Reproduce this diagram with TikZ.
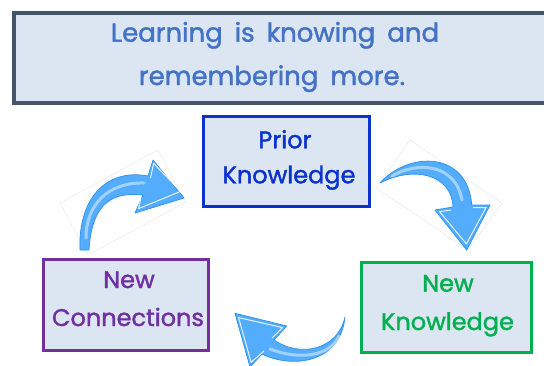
\documentclass[tikz,border=0pt]{standalone}
\usepackage{fontspec}
\setmainfont{Poppins}[FakeBold=1.6]
\newcommand\widewordgaps{\spaceskip=12pt plus 2pt\relax}
\definecolor{boxfill}{RGB}{220,230,242}
\definecolor{titleframe}{RGB}{68,84,106}
\definecolor{titletext}{RGB}{68,114,196}
\definecolor{priorblue}{RGB}{10,50,205}
\definecolor{connpurple}{RGB}{112,48,160}
\definecolor{newgreen}{RGB}{0,176,80}
\definecolor{arrowblue}{RGB}{84,172,252}
\definecolor{arrowedge}{RGB}{50,150,240}
\begin{document}
\begin{tikzpicture}[x=1pt,y=-1pt,
  framebox/.style={draw, fill=boxfill, line width=3pt, inner sep=0pt},
  words/.style={anchor=base, inner sep=0pt, font=\fontsize{24}{36}\selectfont},
  headline/.style={words, text=titletext, font=\fontsize{26}{36}\selectfont\widewordgaps},
  arrowbody/.style={fill=arrowblue, draw=arrowedge, line width=0.8pt, line join=round},
  arrowshine/.style={draw=white, line width=1pt, opacity=0.85, line join=round},
  arrowgloss/.style={draw=white, line width=3pt, opacity=0.45, line cap=round},
  ghostframe/.style={draw=black!10, line width=0.4pt}]
\useasboundingbox (0,0) rectangle (544,365);

% heading banner
\node[framebox, draw=titleframe, line width=4pt, minimum width=534.5pt, minimum height=90pt] (banner) at (280.75,57.5) {};
\node[headline] (banner-l1) at (275,41.7) {Learning is knowing and};
\node[headline] (banner-l2) at (272,85) {remembering more.};

% the three stages
\node[framebox, draw=priorblue, minimum width=166pt, minimum height=90pt] (prior) at (286.25,161.5) {};
\node[words, text=priorblue] (prior-l1) at (285,148.3) {Prior};
\node[words, text=priorblue] (prior-l2) at (289,183.3) {Knowledge};

\node[framebox, draw=newgreen, minimum width=170pt, minimum height=90.5pt] (newk) at (446.5,307.25) {};
\node[words, text=newgreen] (newk-l1) at (448,291.7) {New};
\node[words, text=newgreen] (newk-l2) at (447.5,330) {Knowledge};

\node[framebox, draw=connpurple, minimum width=164.5pt, minimum height=91.5pt] (conn) at (125.75,304.75) {};
\node[words, text=connpurple] (conn-l1) at (129,288) {New};
\node[words, text=connpurple] (conn-l2) at (128,326) {Connections};

% faint picture frames behind two of the arrows
\draw[ghostframe] (60,203) -- (158,150) -- (186,202) -- (88,255) -- cycle;
\draw[ghostframe] (410,140) -- (501.7,203.3) -- (468,250) -- (376.7,188.3) -- cycle;

% curved arrow: new connections -> prior knowledge
\path[arrowbody] (80,250) .. controls (78,200) and (105,168) .. (148,176)
  -- (153,160) -- (184,198) -- (135,213) -- (143,195)
  .. controls (115,192) and (92,200) .. (89,250) -- cycle;
\draw[arrowgloss] (86,238) .. controls (86,205) and (108,182) .. (144,183);
\draw[arrowshine] (150.5,178) -- (153.6,163.2) -- (180.5,191.4) -- (138.4,208.7) -- (141,198);

% curved arrow: prior knowledge -> new knowledge
\path[arrowbody] (380,183) .. controls (410,150) and (468,152) .. (471.7,205)
  -- (490,205) -- (466.7,250) -- (435,210) -- (453,207)
  .. controls (452,175) and (415,165) .. (380,183) -- cycle;
\draw[arrowgloss] (392,176) .. controls (415,162) and (455,162) .. (462,200);
\draw[arrowshine] (473,207.5) -- (486.1,207.5) -- (466.4,243.9) -- (439.6,211.7) -- (451,210);

% curved arrow: new knowledge -> new connections
\path[arrowbody] (345,317) .. controls (340,365) and (290,368) .. (262,354)
  -- (250,367) -- (235,313.3) -- (286.7,326) -- (274,340)
  .. controls (300,358) and (338,350) .. (345,317) -- cycle;
\draw[arrowgloss] (339,336) .. controls (330,357) and (298,360) .. (270,349);
\draw[arrowshine] (264,351) -- (251.1,362.3) -- (238.6,317.6) -- (282.6,327.6) -- (272,338);
\end{tikzpicture}
\end{document}
